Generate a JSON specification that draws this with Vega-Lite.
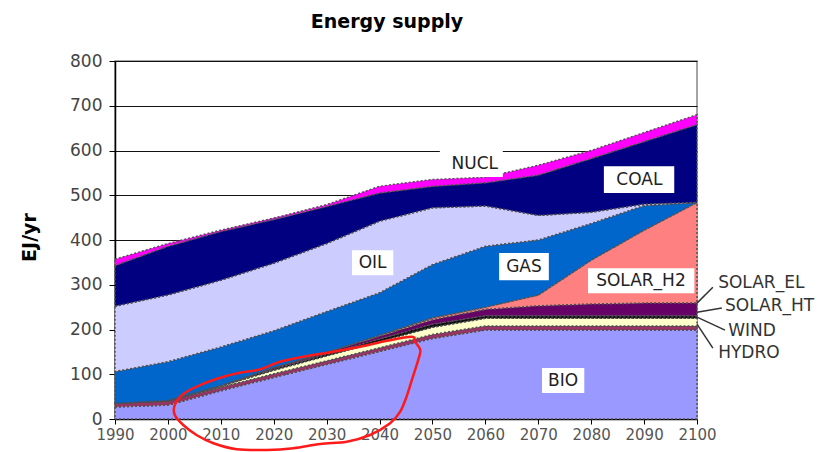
{
  "$schema": "https://vega.github.io/schema/vega-lite/v6.json",
  "width": 582,
  "height": 358,
  "autosize": {"type": "none"},
  "padding": {"left": 115, "top": 61, "right": 141, "bottom": 33},
  "background": "white",
  "title": {"text": "Energy supply", "font": "DejaVu Sans", "fontSize": 19, "fontWeight": "bold", "color": "#000", "anchor": "middle", "dx": -19, "offset": 20},
  "config": {"view": {"stroke": "#888", "strokeWidth": 1.5}, "font": "DejaVu Sans"},
  "datasets": {
    "supply": [
      {"year": 1990, "BIO": 27, "HYDRO": 8, "WIND": 0, "SOLAR_HT": 0, "SOLAR_EL": 0, "SOLAR_H2": 0, "GAS": 71, "OIL": 146, "COAL": 91, "NUCL": 14},
      {"year": 2000, "BIO": 31, "HYDRO": 9, "WIND": 0.5, "SOLAR_HT": 0.5, "SOLAR_EL": 0.5, "SOLAR_H2": 0, "GAS": 86.5, "OIL": 149, "COAL": 109, "NUCL": 6},
      {"year": 2010, "BIO": 63, "HYDRO": 8, "WIND": 2, "SOLAR_HT": 1, "SOLAR_EL": 1, "SOLAR_H2": 0, "GAS": 86, "OIL": 149, "COAL": 109, "NUCL": 3},
      {"year": 2020, "BIO": 93, "HYDRO": 8, "WIND": 8, "SOLAR_HT": 3, "SOLAR_EL": 3, "SOLAR_H2": 0, "GAS": 82, "OIL": 151, "COAL": 98, "NUCL": 3},
      {"year": 2030, "BIO": 122, "HYDRO": 8, "WIND": 11, "SOLAR_HT": 4, "SOLAR_EL": 4, "SOLAR_H2": 0, "GAS": 91, "OIL": 152, "COAL": 83, "NUCL": 4},
      {"year": 2040, "BIO": 151, "HYDRO": 8, "WIND": 14, "SOLAR_HT": 6, "SOLAR_EL": 6, "SOLAR_H2": 2, "GAS": 95, "OIL": 160, "COAL": 63, "NUCL": 15},
      {"year": 2050, "BIO": 180, "HYDRO": 9, "WIND": 16, "SOLAR_HT": 7, "SOLAR_EL": 10, "SOLAR_H2": 4, "GAS": 119, "OIL": 127, "COAL": 48, "NUCL": 15},
      {"year": 2060, "BIO": 199, "HYDRO": 9, "WIND": 17, "SOLAR_HT": 6, "SOLAR_EL": 14, "SOLAR_H2": 5, "GAS": 136, "OIL": 90, "COAL": 52, "NUCL": 12},
      {"year": 2070, "BIO": 199, "HYDRO": 9, "WIND": 17, "SOLAR_HT": 6, "SOLAR_EL": 22, "SOLAR_H2": 24, "GAS": 123, "OIL": 55, "COAL": 90, "NUCL": 22},
      {"year": 2080, "BIO": 199, "HYDRO": 9, "WIND": 17, "SOLAR_HT": 6, "SOLAR_EL": 26, "SOLAR_H2": 98, "GAS": 82, "OIL": 25, "COAL": 120, "NUCL": 18},
      {"year": 2090, "BIO": 199, "HYDRO": 9, "WIND": 17, "SOLAR_HT": 6, "SOLAR_EL": 28, "SOLAR_H2": 163, "GAS": 55, "OIL": 3, "COAL": 140, "NUCL": 20},
      {"year": 2100, "BIO": 199, "HYDRO": 9, "WIND": 17, "SOLAR_HT": 6, "SOLAR_EL": 28, "SOLAR_H2": 225, "GAS": 0, "OIL": 0, "COAL": 174, "NUCL": 22}
    ],
    "inlabels": [
      {"label": "NUCL", "x1": 2051.4, "x2": 2063.3, "y1": 541, "y2": 600, "tx": 2058, "ty": 569},
      {"label": "COAL", "x1": 2082.4, "x2": 2095.7, "y1": 505, "y2": 565, "tx": 2089.1, "ty": 535},
      {"label": "OIL", "x1": 2034.8, "x2": 2042.6, "y1": 321, "y2": 377, "tx": 2038.7, "ty": 349},
      {"label": "GAS", "x1": 2062.6, "x2": 2072.0, "y1": 310, "y2": 371, "tx": 2067.3, "ty": 340},
      {"label": "SOLAR_H2", "x1": 2079.4, "x2": 2099.5, "y1": 281, "y2": 337, "tx": 2089.4, "ty": 308},
      {"label": "BIO", "x1": 2070.7, "x2": 2078.7, "y1": 58, "y2": 114, "tx": 2074.7, "ty": 86}
    ],
    "outlabels": [
      {"label": "SOLAR_EL", "x0": 2100, "y0": 259, "x1": 2103.0, "y1": 294.6, "tx": 2104.0, "ty": 304.7},
      {"label": "SOLAR_HT", "x0": 2100, "y0": 238.8, "x1": 2104.7, "y1": 247.8, "tx": 2105.3, "ty": 252.2},
      {"label": "WIND", "x0": 2100, "y0": 227.7, "x1": 2105.3, "y1": 198.7, "tx": 2105.9, "ty": 196.4},
      {"label": "HYDRO", "x0": 2100, "y0": 212, "x1": 2103.0, "y1": 158.5, "tx": 2104.0, "ty": 147.3}
    ],
    "loop": [
      {"i": 0, "year": 2046.1, "v": 183.7},
      {"i": 1, "year": 2041.4, "v": 174.8},
      {"i": 2, "year": 2036.3, "v": 161.4},
      {"i": 3, "year": 2031.3, "v": 150.2},
      {"i": 4, "year": 2025.6, "v": 139.1},
      {"i": 5, "year": 2021.2, "v": 127.9},
      {"i": 6, "year": 2017.4, "v": 110.9},
      {"i": 7, "year": 2013.6, "v": 103.3},
      {"i": 8, "year": 2010.5, "v": 94.4},
      {"i": 9, "year": 2006.1, "v": 75.9},
      {"i": 10, "year": 2002.9, "v": 55.8},
      {"i": 11, "year": 2001.3, "v": 31.3},
      {"i": 12, "year": 2001.3, "v": 8.9},
      {"i": 13, "year": 2002.9, "v": -13.4},
      {"i": 14, "year": 2005.4, "v": -35.7},
      {"i": 15, "year": 2008.6, "v": -54.2},
      {"i": 16, "year": 2013.0, "v": -67.6},
      {"i": 17, "year": 2018.7, "v": -69.2},
      {"i": 18, "year": 2023.7, "v": -65.4},
      {"i": 19, "year": 2028.8, "v": -55.8},
      {"i": 20, "year": 2033.8, "v": -50.7},
      {"i": 21, "year": 2038.2, "v": -35.7},
      {"i": 22, "year": 2042.0, "v": -9.6},
      {"i": 23, "year": 2043.9, "v": 16.3},
      {"i": 24, "year": 2045.1, "v": 49.8},
      {"i": 25, "year": 2046.1, "v": 87.1},
      {"i": 26, "year": 2047.3, "v": 131.7},
      {"i": 27, "year": 2047.7, "v": 154},
      {"i": 28, "year": 2046.7, "v": 172.5}
    ]
  },
  "layer": [
    {
      "data": {"name": "supply"},
      "transform": [
        {"fold": ["BIO", "HYDRO", "WIND", "SOLAR_HT", "SOLAR_EL", "SOLAR_H2", "GAS", "OIL", "COAL", "NUCL"], "as": ["source", "value"]},
        {"calculate": "indexof(['BIO','HYDRO','WIND','SOLAR_HT','SOLAR_EL','SOLAR_H2','GAS','OIL','COAL','NUCL'], datum.source)", "as": "k"}
      ],
      "mark": {"type": "area", "interpolate": "linear", "stroke": "#505050", "strokeWidth": 1.5, "strokeDash": [2, 2]},
      "encoding": {
        "x": {
          "field": "year", "type": "quantitative",
          "scale": {"domain": [1990, 2100], "nice": false, "zero": false},
          "axis": {
            "values": [1990, 2000, 2010, 2020, 2030, 2040, 2050, 2060, 2070, 2080, 2090, 2100],
            "format": "d", "title": null, "grid": false,
            "tickSize": 5, "tickColor": "#000", "domainColor": "#000", "domainWidth": 1.5,
            "labelFont": "DejaVu Sans", "labelFontSize": 15, "labelColor": "#555", "labelPadding": 3,
            "labelFlush": false, "labelOverlap": false
          }
        },
        "y": {
          "field": "value", "type": "quantitative", "stack": "zero",
          "scale": {"domain": [0, 800], "nice": false},
          "axis": {
            "values": [0, 100, 200, 300, 400, 500, 600, 700, 800],
            "grid": true, "gridColor": "#111", "gridWidth": 1.2,
            "tickSize": 6, "tickColor": "#000", "domainColor": "#000", "domainWidth": 1.5,
            "labelFont": "DejaVu Sans", "labelFontSize": 17, "labelColor": "#444", "labelPadding": 7,
            "title": "EJ/yr", "titleFont": "DejaVu Sans", "titleFontSize": 19, "titleFontWeight": "bold", "titleColor": "#000",
            "titleX": -86, "titleY": 176, "titleAngle": -90, "titleAlign": "center", "titleBaseline": "middle"
          }
        },
        "color": {
          "field": "source", "type": "nominal",
          "scale": {
            "domain": ["BIO", "HYDRO", "WIND", "SOLAR_HT", "SOLAR_EL", "SOLAR_H2", "GAS", "OIL", "COAL", "NUCL"],
            "range": ["#9999FF", "#993366", "#FFFFCC", "#111111", "#660066", "#FF8080", "#0066CC", "#CCCCFF", "#000080", "#FF00FF"]
          },
          "legend": null
        },
        "order": {"field": "k", "type": "quantitative"}
      }
    },
    {
      "data": {"name": "inlabels"},
      "mark": {"type": "rect", "fill": "white"},
      "encoding": {
        "x": {"field": "x1", "type": "quantitative"},
        "x2": {"field": "x2"},
        "y": {"field": "y1", "type": "quantitative"},
        "y2": {"field": "y2"}
      }
    },
    {
      "data": {"name": "inlabels"},
      "mark": {"type": "text", "font": "DejaVu Sans", "fontSize": 17, "color": "#222", "align": "center", "baseline": "middle"},
      "encoding": {
        "x": {"field": "tx", "type": "quantitative"},
        "y": {"field": "ty", "type": "quantitative"},
        "text": {"field": "label"}
      }
    },
    {
      "data": {"name": "outlabels"},
      "mark": {"type": "rule", "color": "#333", "strokeWidth": 1.5, "clip": false},
      "encoding": {
        "x": {"field": "x0", "type": "quantitative"},
        "x2": {"field": "x1"},
        "y": {"field": "y0", "type": "quantitative"},
        "y2": {"field": "y1"}
      }
    },
    {
      "data": {"name": "outlabels"},
      "mark": {"type": "text", "font": "DejaVu Sans", "fontSize": 17, "color": "#333", "align": "left", "baseline": "middle", "clip": false},
      "encoding": {
        "x": {"field": "tx", "type": "quantitative"},
        "y": {"field": "ty", "type": "quantitative"},
        "text": {"field": "label"}
      }
    },
    {
      "data": {"name": "loop"},
      "mark": {"type": "line", "color": "#ff1a1a", "strokeWidth": 2.5, "interpolate": "cardinal-closed", "clip": false},
      "encoding": {
        "x": {"field": "year", "type": "quantitative"},
        "y": {"field": "v", "type": "quantitative"},
        "order": {"field": "i", "type": "quantitative"}
      }
    }
  ]
}
